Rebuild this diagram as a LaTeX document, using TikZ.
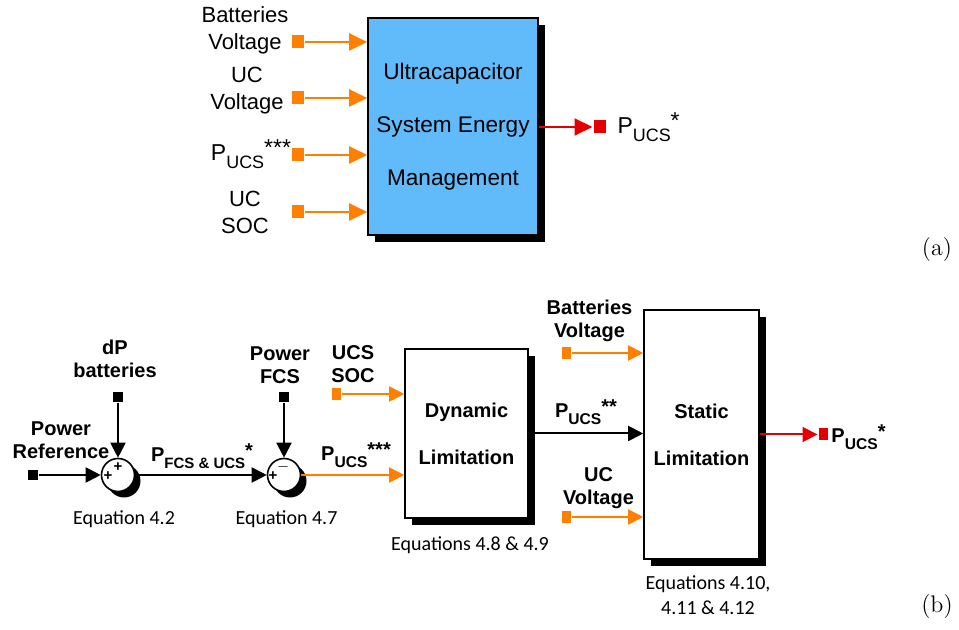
\documentclass[tikz,border=0pt]{standalone}
\usepackage{fontspec}
\usepackage{graphicx}
\usetikzlibrary{arrows.meta, positioning, shadows}

\newfontfamily\arialfont{Liberation Sans}
\newfontfamily\eqfont{Carlito}

\definecolor{ucblue}{RGB}{97,187,250}
\definecolor{ucorange}{RGB}{255,128,0}
\definecolor{ucred}{RGB}{228,0,0}

% P with the UCS subscript and a star superscript
\newcommand{\pucs}[1]{P\raisebox{-0.35em}{\scalebox{0.78}{UCS}}\raisebox{0.2em}{#1}}

\begin{document}
\begin{tikzpicture}[x=0.5pt, y=-0.5pt,
        blk/.style={rectangle, draw, line width=0.8pt, inner sep=0pt, align=center,
            drop shadow={fill=black, opacity=1, shadow xshift=3.5pt, shadow yshift=-3.5pt}},
        sumj/.style={circle, draw, fill=white, line width=0.8pt, minimum size=16.5pt, inner sep=0pt,
            drop shadow={fill=black, opacity=1, shadow xshift=3pt, shadow yshift=-3pt}},
        port/.style={rectangle, fill, inner sep=0pt, minimum width=5pt, minimum height=5pt},
        toplbl/.style={font=\arialfont\fontsize{11}{13.5}\selectfont, align=center, inner sep=0pt},
        lbl/.style={font=\arialfont\bfseries\fontsize{10}{11.5}\selectfont, align=center, inner sep=0pt},
        eqn/.style={font=\eqfont\fontsize{10}{12.5}\selectfont, align=center, inner sep=0pt},
        sgn/.style={font=\arialfont\bfseries\fontsize{7.5}{7.5}\selectfont, inner sep=0pt},
        topin/.style={draw=ucorange, line width=1pt, -{Triangle[length=9pt, width=8.5pt]}},
        orangeln/.style={draw=ucorange, line width=1pt},
        redln/.style={draw=ucred, line width=1pt},
        >={Triangle[length=7.5pt, width=7.5pt]}, line width=1pt
    ]
    \useasboundingbox (0,0) rectangle (959,630);

    % (a)
    \node[blk, fill=ucblue, minimum width=85pt, minimum height=108.5pt,
        font=\arialfont\fontsize{11.3}{26.5}\selectfont] (ucsem) at (453,126.5)
        {Ultracapacitor\\System Energy\\Management};
    \foreach \y/\n in {42/bv, 98/ucv, 155/pr, 212/soc} {
        \node[port, fill=ucorange, minimum width=6pt, minimum height=6.5pt] (in\n) at (297.5,\y) {};
        \draw[topin] (in\n) -- (in\n -| ucsem.west);
    }
    \node[toplbl] (lbbv) at (245,30) {Batteries\\Voltage};
    \node[toplbl] (lbucv) at (247,91) {UC\\Voltage};
    \node[toplbl, font=\arialfont\fontsize{11.5}{13.5}\selectfont] (lbpr) at (251,154) {\pucs{***}};
    \node[toplbl] (lbsoc) at (245,212.5) {UC\\SOC};

    \node[port, fill=ucred, minimum width=6pt, minimum height=6.5pt] (outa) at (599.5,127) {};
    \draw[redln, -{Triangle[length=9pt, width=8.5pt]}] (ucsem.east |- outa) -- (outa);
    \node[toplbl, font=\arialfont\fontsize{11.5}{13.5}\selectfont, right=5pt of outa] (lbouta) {\pucs{*}};

    \node[font=\fontsize{12}{14}\selectfont] (capa) at (937,250) {(a)};

    % (b)
    \node[sumj] (s1) at (118,475) {};
    \node[sumj] (s2) at (284,475) {};
    \node[sgn] (s1a) at ([shift={(-10,1)}]s1.center) {+};
    \node[sgn] (s1b) at ([shift={(0,-8)}]s1.center) {+};
    \node[sgn] (s2a) at ([shift={(-11,1)}]s2.center) {+};
    \node[sgn] (s2b) at ([shift={(-1,-8)}]s2.center) {$-$};

    \node[port] (inref) at (32.5,475) {};
    \node[port] (indp) at (118,397.5) {};
    \node[port] (infcs) at (284,397) {};
    \draw[->] (inref) -- (s1);
    \draw[->] (indp) -- (s1);
    \draw[->] (infcs) -- (s2);
    \draw[->] (s1) -- (s2);

    \node[blk, fill=white, minimum width=61.5pt, minimum height=84.5pt, font=\arialfont\bfseries\fontsize{10}{23.5}\selectfont]
        (dyn) at (466.5,433.5) {Dynamic\\Limitation};
    \node[blk, fill=white, minimum width=57.5pt, minimum height=124.5pt, font=\arialfont\bfseries\fontsize{10}{23.5}\selectfont]
        (stat) at (701.5,434.5) {Static\\Limitation};

    \draw[orangeln, ->] (s2) -- (s2 -| dyn.west);
    \node[port, fill=ucorange, minimum width=4.5pt, minimum height=6pt] (insocb) at (336,394) {};
    \draw[orangeln, ->] (insocb) -- (insocb -| dyn.west);
    \draw[->] (dyn.east) -- (dyn.east -| stat.west);

    \node[port, fill=ucorange, minimum width=4.5pt, minimum height=6pt] (inbvb) at (566,353) {};
    \node[port, fill=ucorange, minimum width=4.5pt, minimum height=6pt] (inucvb) at (566,517) {};
    \draw[orangeln, ->] (inbvb) -- (inbvb -| stat.west);
    \draw[orangeln, ->] (inucvb) -- (inucvb -| stat.west);

    \node[port, fill=ucred, minimum width=4.5pt, minimum height=6pt] (outb) at (823,434.5) {};
    \draw[redln, ->] (stat) -- (outb);

    \node[lbl] (lbdp) at (115,359) {dP\\batteries};
    \node[lbl] (lbref) at (61,440) {Power\\Reference};
    \node[lbl] (lbfu) at (202,456) {P\raisebox{-0.35em}{\scalebox{0.75}{FCS \& UCS}}\raisebox{0.2em}{*}};
    \node[lbl] (lbfcs) at (280,365.5) {Power\\FCS};
    \node[lbl] (lbsocb) at (353,364) {UCS\\SOC};
    \node[lbl] (lbpu3) at (356,455) {\pucs{***}};
    \node[lbl] (lbpu2) at (586,412) {\pucs{**}};
    \node[lbl] (lbbvb) at (589.5,321) {Batteries\\Voltage};
    \node[lbl] (lbucvb) at (598.5,488) {UC\\Voltage};
    \node[lbl] (lbpu1) at (858.5,437) {\pucs{*}};

    \node[eqn] (eq1) at (124,519) {Equation 4.2};
    \node[eqn] (eq2) at (286.5,519) {Equation 4.7};
    \node[eqn] (eq3) at (470,545) {Equations 4.8 \& 4.9};
    \node[eqn] (eq4) at (708,595) {Equations 4.10,\\4.11 \& 4.12};

    \node[font=\fontsize{12}{14}\selectfont] (capb) at (937,607) {(b)};
\end{tikzpicture}
\end{document}
